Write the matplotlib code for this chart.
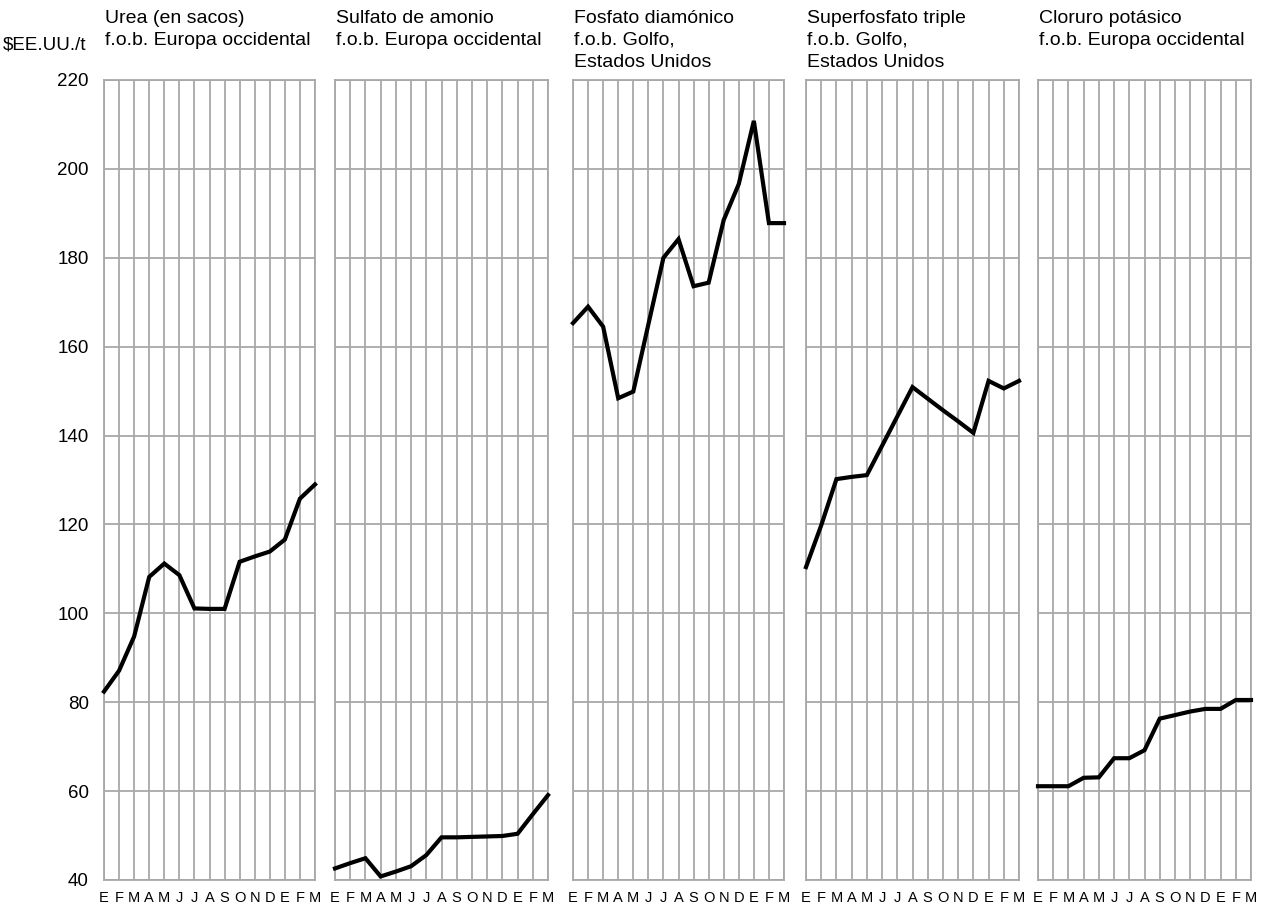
import matplotlib
matplotlib.use('Agg')
import matplotlib.pyplot as plt

plt.rcParams['font.family'] = ['Liberation Sans', 'DejaVu Sans']

months = ['E', 'F', 'M', 'A', 'M', 'J', 'J', 'A', 'S', 'O', 'N', 'D', 'E', 'F', 'M']
titles = [
    'Urea (en sacos)\nf.o.b. Europa occidental',
    'Sulfato de amonio\nf.o.b. Europa occidental',
    'Fosfato diamónico\nf.o.b. Golfo,\nEstados Unidos',
    'Superfosfato triple\nf.o.b. Golfo,\nEstados Unidos',
    'Cloruro potásico\nf.o.b. Europa occidental',
]
urea = [82.4, 87.1, 94.8, 108.2, 111.2, 108.6, 101.1, 101.0, 101.0, 111.6, 112.8, 113.9, 116.6, 125.8, 129.0]
sulfato = [42.6, 43.8, 44.9, 40.8, 41.9, 43.1, 45.6, 49.6, 49.6, 49.7, 49.8, 49.9, 50.4, 54.8, 59.1]
fosfato = [165.3, 169.0, 164.5, 148.4, 149.9, 165.0, 180.0, 184.2, 173.6, 174.4, 188.5, 196.6, 210.8, 187.8, 187.8]
superfosfato = [110.4, 119.8, 130.2, 130.7, 131.1, 137.7, 144.3, 150.9, 148.3, 145.7, 143.2, 140.6, 152.3, 150.6, 152.3]
cloruro = [61.1, 61.1, 61.1, 63.0, 63.1, 67.4, 67.4, 69.2, 76.3, 77.1, 77.9, 78.5, 78.5, 80.5, 80.5]
series = [urea, sulfato, fosfato, superfosfato, cloruro]
yticks = [40, 60, 80, 100, 120, 140, 160, 180, 200, 220]
ylabel = '$EE.UU./t'

W, H = 1265, 909
fig = plt.figure(figsize=(W / 100, H / 100), dpi=100)

lefts = [104, 335, 573, 806, 1038]
widths = [211, 213, 211, 213, 213]
top_px, bot_px = 80, 880
grid_col = '#a8a8a8'

for i, (vals, title) in enumerate(zip(series, titles)):
    ax = fig.add_axes([lefts[i] / W, 1 - bot_px / H, widths[i] / W, (bot_px - top_px) / H])
    x = list(range(len(months)))
    ax.set_xlim(0, len(months) - 1)
    ax.set_ylim(yticks[0], yticks[-1])
    for xv in x:
        ax.axvline(xv, color=grid_col, lw=1.3, zorder=1)
    for yv in yticks:
        ax.axhline(yv, color=grid_col, lw=1.3, zorder=1)
    ax.plot(x, vals, color='black', lw=3.0, solid_joinstyle='miter', zorder=3, clip_on=False)
    for s in ax.spines.values():
        s.set_color(grid_col)
        s.set_linewidth(1.3)
    ax.set_xticks(x)
    ax.set_xticklabels(months, fontsize=10.5)
    ax.tick_params(axis='x', length=0, pad=8)
    ax.set_yticks(yticks)
    if i == 0:
        ax.set_yticklabels([str(v) for v in yticks], fontsize=13.5)
        ax.tick_params(axis='y', length=0, pad=11)
    else:
        ax.set_yticklabels([])
        ax.tick_params(axis='y', length=0)
    ax.set_facecolor('white')
    fig.text((lefts[i] + 1) / W, 1 - 10 / H, title, fontsize=14, va='top', ha='left',
             linespacing=1.38)

fig.text(3 / W, 1 - 45 / H, ylabel, fontsize=13.5, va='center', ha='left')

fig.savefig('out.png', dpi=100, facecolor='white')
